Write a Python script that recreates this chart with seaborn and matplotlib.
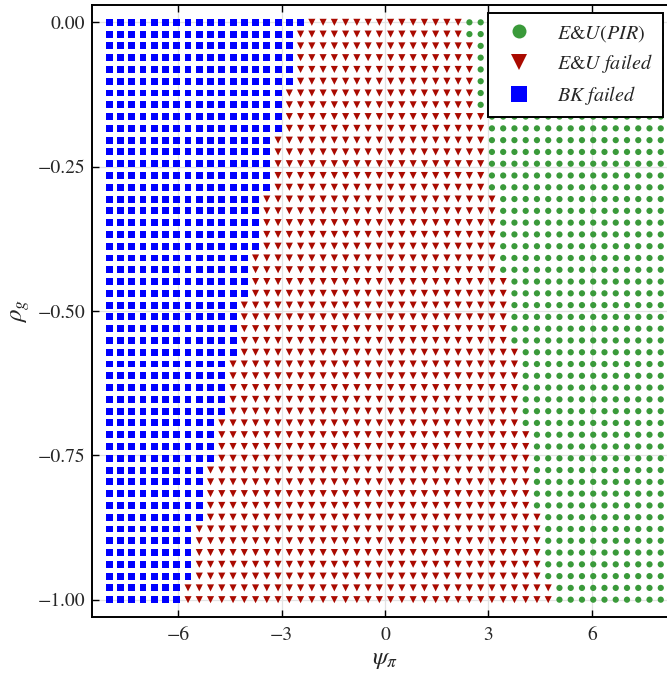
import numpy as np
import pandas as pd
import matplotlib
matplotlib.use("Agg")
import matplotlib.pyplot as plt
import seaborn as sns
from matplotlib.lines import Line2D

# Parameter grid: psi_pi (columns) and rho_g (rows, top row rho=0)
psi_grid = np.linspace(-8, 8, 50)
rho_grid = np.linspace(0, -1, 50)

# For each rho row (top to bottom): number of leftmost psi points where BK fails
bk_failed_count = [18,
                   17, 17, 17, 17, 17,
                   16, 16, 16, 16,
                   15, 15, 15, 15, 15,
                   14, 14, 14, 14, 14,
                   13, 13, 13, 13,
                   12, 12, 12, 12, 12,
                   11, 11, 11, 11, 11,
                   10, 10, 10, 10,
                   9, 9, 9, 9, 9,
                   8, 8, 8, 8, 8,
                   7, 7]

# For each rho row (top to bottom): first psi index where E&U (PIR) holds
pir_first_index = [32, 32,
                   33, 33, 33, 33, 33, 33,
                   34, 34, 34, 34, 34, 34, 34,
                   35, 35, 35, 35, 35, 35, 35,
                   36, 36, 36, 36, 36, 36,
                   37, 37, 37, 37, 37, 37, 37,
                   38, 38, 38, 38, 38, 38, 38,
                   39, 39, 39, 39, 39, 39,
                   40, 40]

categories = ["E&U(PIR)", "E&U failed", "BK failed"]
legend_labels = [r"$E$&$U(PIR)$", r"$E$&$U\ failed$", r"$BK\ failed$"]
colors = {"E&U(PIR)": "#3a9a3a", "E&U failed": "#aa0a00", "BK failed": "#0000ff"}
markers = {"E&U(PIR)": "o", "E&U failed": "v", "BK failed": "s"}
sizes = {"E&U(PIR)": 20, "E&U failed": 26, "BK failed": 25}

rows = []
for r, rho in enumerate(rho_grid):
    for c, psi in enumerate(psi_grid):
        if c < bk_failed_count[r]:
            cat = "BK failed"
        elif c >= pir_first_index[r]:
            cat = "E&U(PIR)"
        else:
            cat = "E&U failed"
        rows.append((psi, rho, cat))
df = pd.DataFrame(rows, columns=["psi", "rho", "outcome"])

sns.set_style("whitegrid")
plt.rcParams.update({
    "font.family": ["STIXGeneral", "DejaVu Serif"],
    "mathtext.fontset": "stix",
    "axes.edgecolor": "black",
    "axes.linewidth": 1.4,
    "grid.color": "#e3e3e3",
    "grid.linewidth": 0.9,
})

fig = plt.figure(figsize=(6.67, 6.75), dpi=100)
ax = fig.add_axes([92 / 667, 58 / 675, 586 / 667, 612 / 675])

for cat in categories:
    sub = df[df["outcome"] == cat]
    sns.scatterplot(data=sub, x="psi", y="rho", ax=ax, color=colors[cat],
                    marker=markers[cat], s=sizes[cat], linewidth=0,
                    edgecolor="none", legend=False, zorder=3)

ax.set_xlim(-8.5, 8.5)
ax.set_ylim(-1.03, 0.03)
ax.set_xticks([-6, -3, 0, 3, 6])
ax.set_yticks([0.0, -0.25, -0.5, -0.75, -1.0])
ax.set_xticklabels(["\u22126", "\u22123", "0", "3", "6"])
ax.set_yticklabels(["0.00", "\u22120.25", "\u22120.50", "\u22120.75", "\u22121.00"])
ax.tick_params(axis="both", direction="in", length=5, width=1, color="black",
               labelsize=14, top=True, right=True, bottom=True, left=True)
ax.tick_params(axis="x", pad=7)
ax.tick_params(axis="y", pad=5)
ax.set_xlabel(r"$\psi_\pi$", fontsize=18, labelpad=2)
ax.set_ylabel(r"$\rho_g$", fontsize=18, labelpad=4)
ax.set_axisbelow(True)
for sp in ax.spines.values():
    sp.set_color("black")
    sp.set_linewidth(1.4)

handles = [Line2D([], [], linestyle="none", marker=markers[c], color=colors[c],
                  markersize=np.sqrt(sizes[c]) * 2.25, markeredgewidth=0)
           for c in categories]
leg = ax.legend(handles, legend_labels, loc="upper right",
                bbox_to_anchor=(0.974, 0.987), borderaxespad=0,
                fontsize=14.5, frameon=True, fancybox=False, framealpha=1,
                edgecolor="black", labelspacing=0.42, handletextpad=0.9,
                borderpad=0.5)
leg.get_frame().set_linewidth(1.4)
leg.set_zorder(5)

fig.savefig("out.png", dpi=100)
